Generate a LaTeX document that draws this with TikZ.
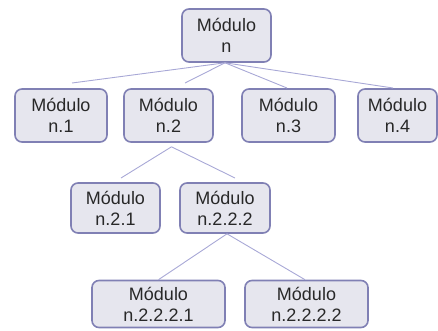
\documentclass[tikz,border=0pt]{standalone}
\usepackage{fontspec}
\setmainfont{Liberation Sans}
\definecolor{boxfill}{HTML}{E6E6EE}
\definecolor{boxdraw}{HTML}{8080B4}
\definecolor{linkcol}{HTML}{A8A8D6}
\definecolor{txtcol}{HTML}{282828}
\begin{document}
\begin{tikzpicture}[x=1pt,y=-1pt,
  modbox/.style={draw=boxdraw, line width=1.6pt, fill=boxfill, rounded corners=7pt,
    align=center, text=txtcol, inner sep=0pt,
    font=\fontsize{18}{21}\selectfont},
  link/.style={draw=linkcol, line width=0.9pt}]
\useasboundingbox (0,0) rectangle (438,330);
% boxes
\node[modbox, minimum width=89pt, minimum height=53pt] (n) at (226.5,35.5) {Módulo\\n};
\node[modbox, minimum width=92pt, minimum height=53pt] (n1) at (61,115.5) {Módulo\\n.1};
\node[modbox, minimum width=89pt, minimum height=53pt] (n2) at (168.5,115.5) {Módulo\\n.2};
\node[modbox, minimum width=93pt, minimum height=53pt] (n3) at (288.5,115.5) {Módulo\\n.3};
\node[modbox, minimum width=79pt, minimum height=53pt] (n4) at (397.5,115.5) {Módulo\\n.4};
\node[modbox, minimum width=89pt, minimum height=50pt] (n21) at (115.5,208) {Módulo\\n.2.1};
\node[modbox, minimum width=90pt, minimum height=50pt] (n222) at (225,208) {Módulo\\n.2.2.2};
\node[modbox, minimum width=133pt, minimum height=47pt] (n2221) at (158.5,304) {Módulo\\n.2.2.2.1};
\node[modbox, minimum width=123pt, minimum height=47pt] (n2222) at (306.5,304) {Módulo\\n.2.2.2.2};
% link ends
\coordinate (e1) at (72,83);
\coordinate (e2) at (185,83);
\coordinate (e3) at (287,88);
\coordinate (e4) at (393,88);
\coordinate (f1) at (121,178);
\coordinate (f2) at (235,178);
% links
\draw[link] ([xshift=-1.5pt]n.south) -- (e1);
\draw[link] ([xshift=-1.5pt]n.south) -- (e2);
\draw[link] ([xshift=-1.5pt]n.south) -- (e3);
\draw[link] ([xshift=-1.5pt]n.south) -- (e4);
\draw[link] ([xshift=3pt,yshift=-4pt]n2.south) -- (f1);
\draw[link] ([xshift=3pt,yshift=-4pt]n2.south) -- (f2);
\draw[link] ([xshift=2pt]n222.south) -- (n2221.north);
\draw[link] ([xshift=2pt]n222.south) -- ([xshift=-1.5pt]n2222.north);
\end{tikzpicture}
\end{document}
